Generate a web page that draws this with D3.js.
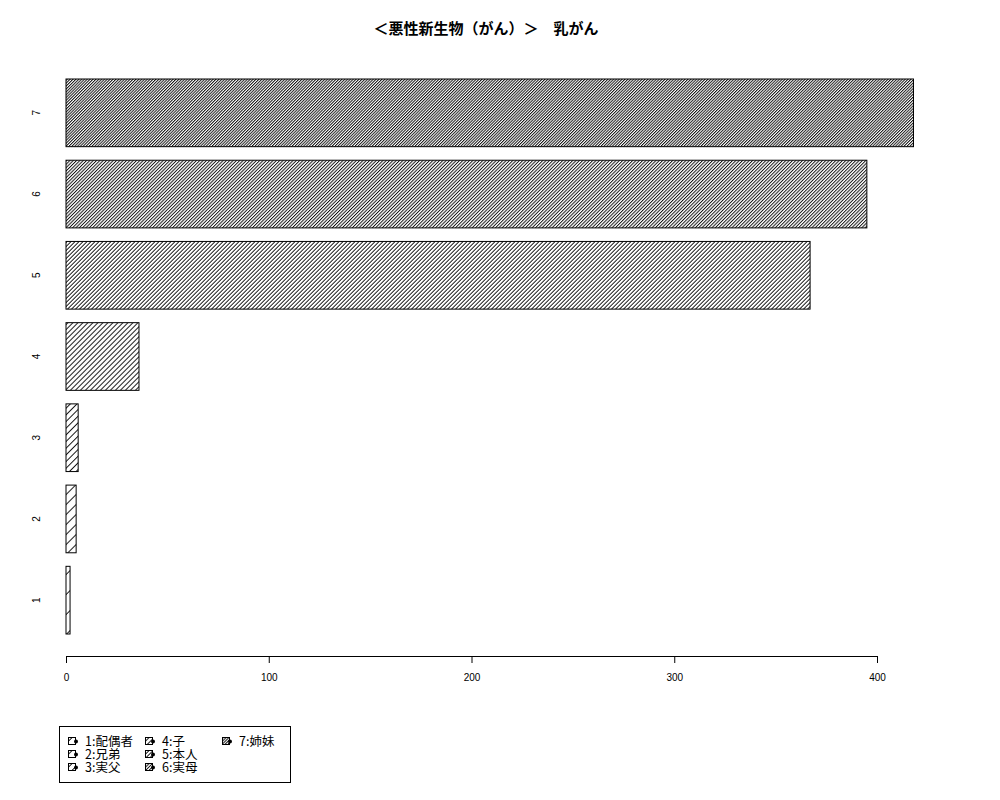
<!DOCTYPE html>
<html>
<head>
<meta charset="utf-8">
<script src="https://cdn.jsdelivr.net/npm/d3@7"></script>
<style>
  body { margin: 0; background: #fff; }
  svg { display: block; }
</style>
</head>
<body>
<div id="chart"></div>
<script>
// chart data
const categories = ["1", "2", "3", "4", "5", "6", "7"];
const counts = [2, 5, 6, 36, 367, 395, 418];
const legendLabels = ["1:配偶者", "2:兄弟", "3:実父", "4:子", "5:本人", "6:実母", "7:姉妹"];
const xTicks = [0, 100, 200, 300, 400];
const titleText = "＜悪性新生物（がん）＞　乳がん";

// hatch spacing (horizontal px between lines) per bar, like R density
const hatchGap = [20, 10, 6.67, 5, 4, 3.33, 2.86];

const W = 1000, H = 800;
const cjk = "'Noto Sans CJK JP', 'Noto Sans', sans-serif";

const svg = d3.select("#chart").append("svg")
  .attr("width", W)
  .attr("height", H);

// one diagonal hatch pattern per bar
const defs = svg.append("defs");
hatchGap.forEach((g, i) => {
  const p = g / Math.SQRT2;
  const pat = defs.append("pattern")
    .attr("id", "hatch" + i)
    .attr("patternUnits", "userSpaceOnUse")
    .attr("width", p)
    .attr("height", p)
    .attr("patternTransform", "rotate(45)");
  pat.append("rect").attr("width", p).attr("height", p).attr("fill", "#fff");
  pat.append("line")
    .attr("x1", 0.5).attr("y1", 0)
    .attr("x2", 0.5).attr("y2", p)
    .attr("stroke", "#000")
    .attr("stroke-width", 0.9);
});

// scales
const x = d3.scaleLinear().domain([0, 400]).range([66, 877]);
const y = d3.scaleBand()
  .domain(categories.slice().reverse())
  .range([79, 634])
  .paddingInner(1 / 6)
  .paddingOuter(0);

// title
svg.append("text")
  .attr("x", 486)
  .attr("y", 34)
  .attr("text-anchor", "middle")
  .style("font-family", cjk)
  .style("font-size", "15px")
  .style("font-weight", "bold")
  .text(titleText);

// bars
svg.append("g").selectAll("rect")
  .data(counts)
  .enter().append("rect")
  .attr("x", x(0))
  .attr("y", (d, i) => y(categories[i]))
  .attr("width", d => x(d) - x(0))
  .attr("height", y.bandwidth())
  .attr("fill", (d, i) => `url(#hatch${i})`)
  .attr("stroke", "#000")
  .attr("stroke-width", 1);

// x axis
const xAxis = svg.append("g")
  .attr("transform", "translate(0,656)")
  .call(d3.axisBottom(x).tickValues(xTicks).tickSize(7).tickPadding(11));
xAxis.select(".domain").attr("stroke", "#000");
xAxis.selectAll("text")
  .style("font-family", "'Liberation Sans', Arial, sans-serif")
  .style("font-size", "10px");

// y labels, rotated like R
svg.append("g").selectAll("text")
  .data(categories)
  .enter().append("text")
  .attr("transform", d => `translate(40,${y(d) + y.bandwidth() / 2}) rotate(-90)`)
  .attr("text-anchor", "middle")
  .style("font-family", "'Liberation Sans', Arial, sans-serif")
  .style("font-size", "10px")
  .text(d => d);

// legend
const legend = svg.append("g");
legend.append("rect")
  .attr("x", 59.5).attr("y", 726.5)
  .attr("width", 231).attr("height", 56)
  .attr("fill", "#fff")
  .attr("stroke", "#000");

const colX = [68, 145, 222];
const rowY = [741, 754, 767];
legendLabels.forEach((lab, i) => {
  const cx = colX[Math.floor(i / 3)];
  const cy = rowY[i % 3];
  const item = legend.append("g").attr("transform", `translate(${cx},${cy})`);
  item.append("rect")
    .attr("x", 0.5).attr("y", -3.5)
    .attr("width", 7).attr("height", 7)
    .attr("fill", `url(#hatch${i})`)
    .attr("stroke", "#000");
  item.append("circle")
    .attr("cx", 8).attr("cy", 0.5).attr("r", 2)
    .attr("fill", "#000");
  item.append("text")
    .attr("x", 17)
    .attr("y", 0)
    .attr("dy", "0.38em")
    .style("font-family", cjk)
    .style("font-size", "12.5px")
    .text(lab);
});
</script>
</body>
</html>
